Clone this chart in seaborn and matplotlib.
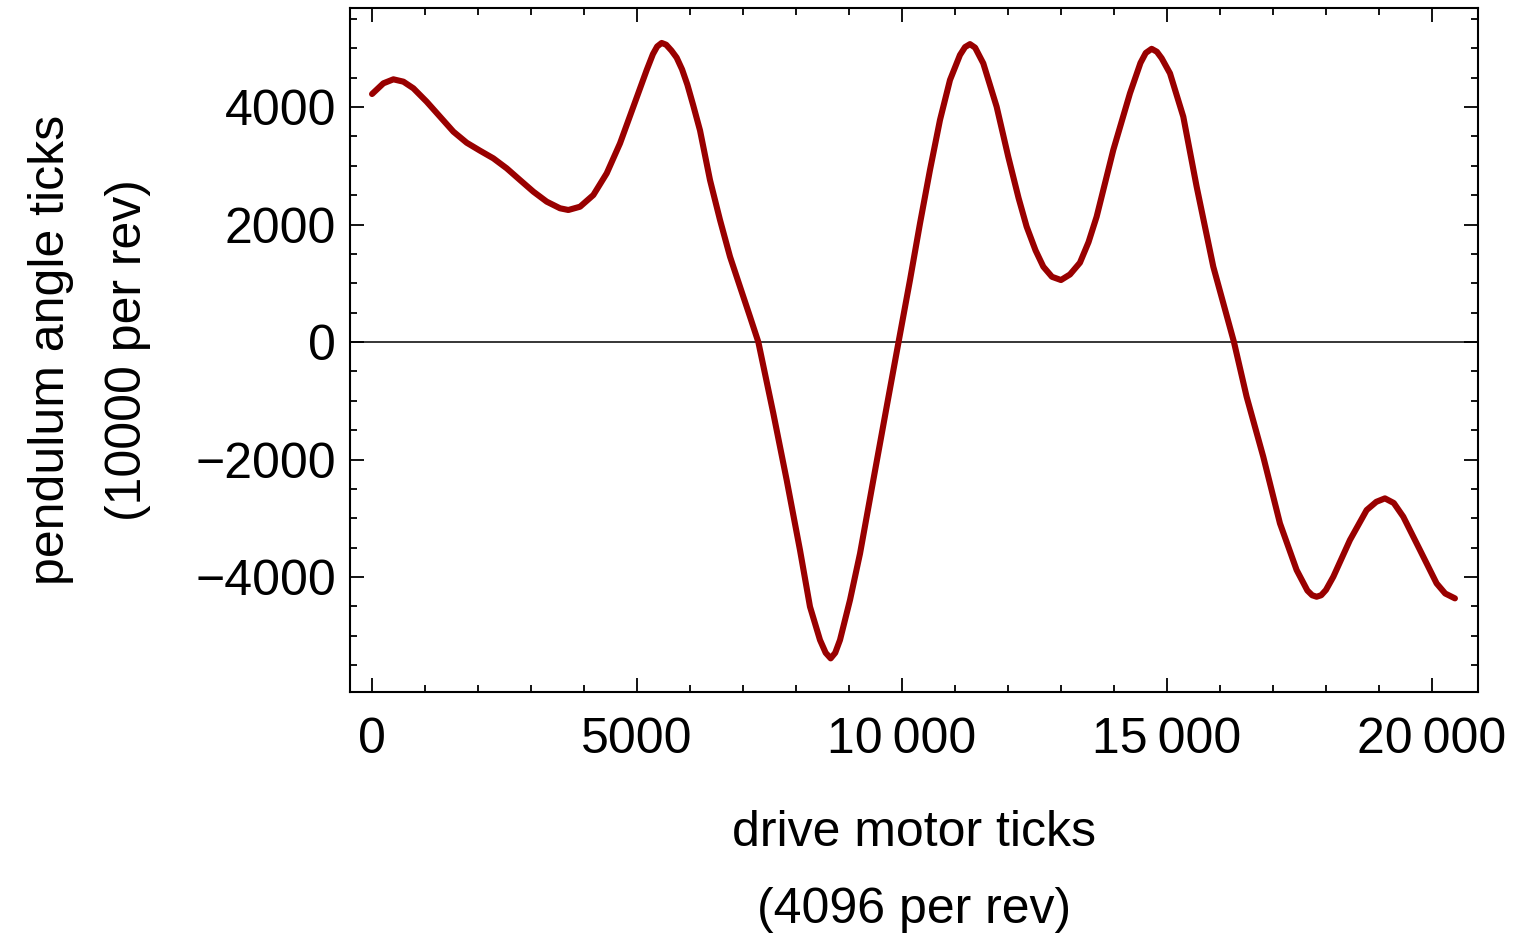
import numpy as np
import pandas as pd
import matplotlib
matplotlib.use("Agg")
import matplotlib.pyplot as plt
import matplotlib.ticker as mticker
import seaborn as sns

# valeurs
motor_ticks = [0, 214, 403, 592, 780, 1031, 1283, 1535, 1786, 2038, 2289, 2541, 2792,
               3044, 3296, 3547, 3704, 3925, 4176, 4428, 4679, 4931, 5183, 5300, 5380,
               5465, 5550, 5650, 5748, 5850, 5950, 6060, 6189, 6377, 6566, 6755, 6943, 7132,
               7289, 7572, 7824, 8075, 8264, 8453, 8560, 8654, 8740, 8830, 9019, 9208,
               9459, 9711, 9935, 10151, 10340, 10528, 10717, 10906, 11094, 11190, 11283,
               11380, 11534, 11786, 12006, 12200, 12352, 12520, 12667, 12830, 13000,
               13170, 13358, 13520, 13673, 13987, 14302, 14500, 14600, 14711, 14810,
               14900, 15057, 15308, 15560, 15874, 16264, 16503, 16817, 17132, 17447,
               17650, 17740, 17824, 17910, 18000, 18139, 18453, 18768, 18950, 19113,
               19280, 19459, 19774, 20088, 20250, 20434]
pendulum_ticks = [4221, 4403, 4471, 4431, 4318, 4090, 3835, 3580, 3392, 3256, 3126, 2956, 2757,
                  2559, 2389, 2276, 2247, 2303, 2502, 2871, 3381, 4005, 4630, 4900, 5030,
                  5090, 5060, 4960, 4840, 4640, 4380, 4030, 3600, 2757, 2077, 1452, 942, 431,
                  0, -1214, -2349, -3540, -4505, -5072, -5290, -5384, -5290, -5072, -4391, -3600,
                  -2349, -1101, 0, 1055, 2020, 2928, 3779, 4460, 4885, 5020, 5070,
                  5010, 4743, 4005, 3150, 2450, 1963, 1560, 1282, 1110, 1055,
                  1150, 1350, 1700, 2133, 3268, 4233, 4750, 4920, 4990, 4940,
                  4830, 4573, 3835, 2644, 1282, 0, -931, -1952, -3086, -3881,
                  -4230, -4310, -4335, -4310, -4220, -3995, -3370, -2860, -2720, -2661,
                  -2740, -2973, -3540, -4108, -4280, -4363]

x_major = [0, 5000, 10000, 15000, 20000]
y_major = [-4000, -2000, 0, 2000, 4000]

df = pd.DataFrame({"motor": motor_ticks, "pendulum": pendulum_ticks})

sns.set_theme(style="ticks")
plt.rcParams['font.family'] = ['Liberation Sans', 'DejaVu Sans']

fig = plt.figure(figsize=(15.36, 9.4), dpi=100)
ax = fig.add_axes([0.2279, 0.2638, 0.7343, 0.7277])

ax.axhline(0, color="black", lw=1.1, zorder=1)
sns.lineplot(data=df, x="motor", y="pendulum", color="#990000", lw=4.4, ax=ax,
             solid_capstyle="round", solid_joinstyle="round", zorder=3)

ax.set_xlim(-415, 20868)
ax.set_ylim(-5957, 5685)
ax.set_xticks(x_major)
ax.set_yticks(y_major)
ax.xaxis.set_minor_locator(mticker.MultipleLocator(1000))
ax.yaxis.set_minor_locator(mticker.MultipleLocator(500))


def fmt_x(v, pos):
    v = int(round(v))
    if abs(v) >= 10000:
        return f"{v:,}".replace(",", "\u2009")
    return str(v)


ax.xaxis.set_major_formatter(mticker.FuncFormatter(fmt_x))

for s in ax.spines.values():
    s.set_linewidth(1.5)
    s.set_color("black")

ax.tick_params(which="both", direction="in", top=True, right=True, color="black", width=1.3)
ax.tick_params(which="major", length=10, labelsize=36, labelcolor="black")
ax.tick_params(which="minor", length=5)
ax.tick_params(axis="x", which="major", pad=18)
ax.tick_params(axis="y", which="major", pad=10)

ax.set_xlabel("drive motor ticks\n(4096 per rev)", fontsize=36, linespacing=1.85,
              labelpad=34, color="black")
ax.set_ylabel("pendulum angle ticks\n(10000 per rev)", fontsize=36, linespacing=1.85,
              labelpad=32, color="black")

fig.savefig("out.png", dpi=100, facecolor="white")
